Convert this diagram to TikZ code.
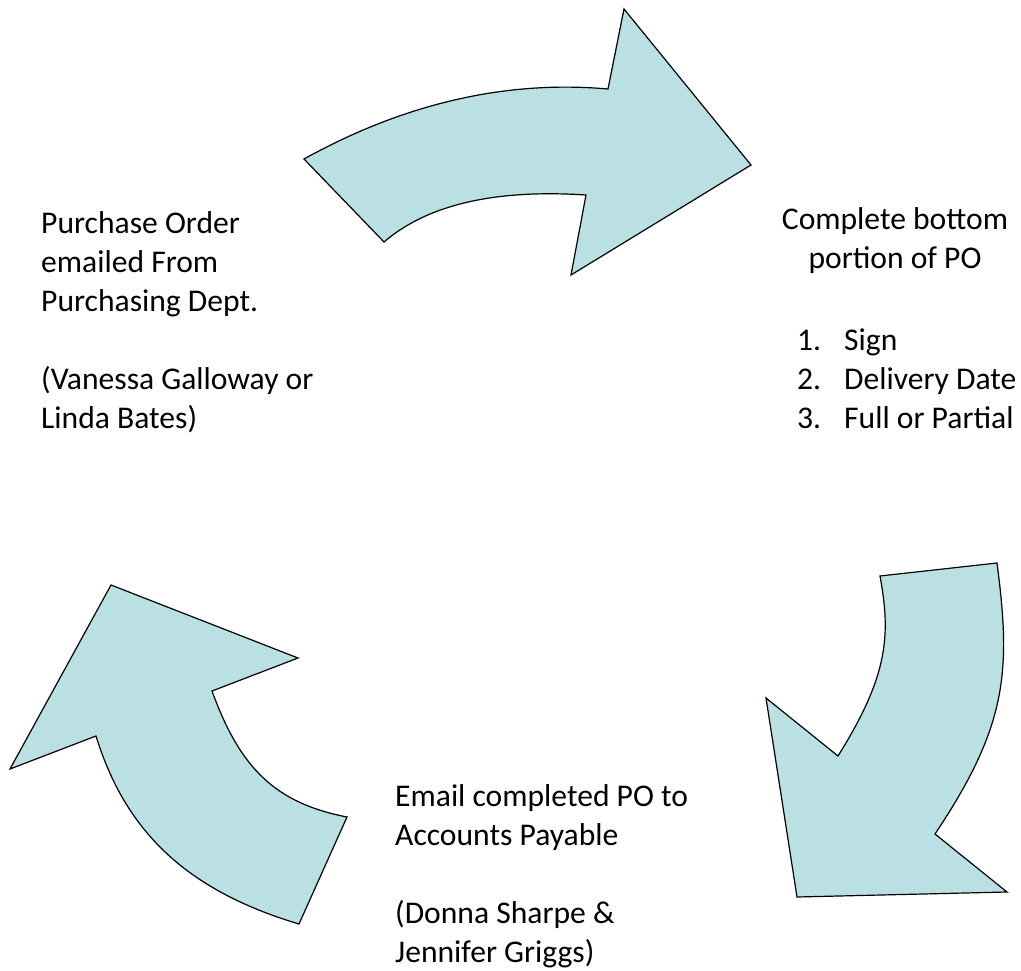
\documentclass[tikz,border=0pt]{standalone}
\usepackage{fontspec}
\setmainfont{Carlito}
\definecolor{arrowfill}{RGB}{186,224,228}

\begin{document}
\begin{tikzpicture}[x=1pt, y=-1pt,
    flowarrow/.style={draw=black, line width=1.2pt, line join=miter, fill=arrowfill},
    steptext/.style={inner sep=0pt, anchor=base west, align=left, font=\fontsize{31.6}{39}\selectfont},
    headtext/.style={inner sep=0pt, anchor=base, align=center, font=\fontsize{31.6}{39}\selectfont}
]
    \useasboundingbox (0,0) rectangle (1021,971);

    % top arrow
    \draw[flowarrow] (304,159) .. controls (405,103) and (507,80) .. (608,89)
        -- (624,9) -- (751,165) -- (571,275) -- (586,195)
        .. controls (494,189) and (427,205) .. (384,242) -- cycle;

    % right arrow
    \draw[flowarrow] (880,576) -- (997,563)
        .. controls (1011,670) and (1008,725) .. (935,834)
        -- (1007,892) -- (797,897) -- (766,698) -- (838,756)
        .. controls (888,676) and (891,636) .. (880,576) -- cycle;

    % left arrow
    \draw[flowarrow] (111,585) -- (298,658) -- (212,691)
        .. controls (240,768) and (275,803) .. (347,817)
        -- (299,924) .. controls (185,890) and (125,830) .. (96,736)
        -- (10,769) -- cycle;

    % texts (placed at the baseline of their last line)
    \node[steptext] (order) at (41,428) {Purchase Order\\emailed From\\Purchasing Dept.\\[39pt](Vanessa Galloway or\\Linda Bates)};
    \node[headtext] (portion) at (895,268) {Complete bottom\\portion of PO};
    \node[steptext] (steps) at (797,428) {\makebox[47pt][l]{1.}Sign\\\makebox[47pt][l]{2.}Delivery Date\\\makebox[47pt][l]{3.}Full or Partial};
    \node[steptext] (email) at (395,962) {Email completed PO to\\Accounts Payable\\[39pt](Donna Sharpe \&\\Jennifer Griggs)};
\end{tikzpicture}
\end{document}
